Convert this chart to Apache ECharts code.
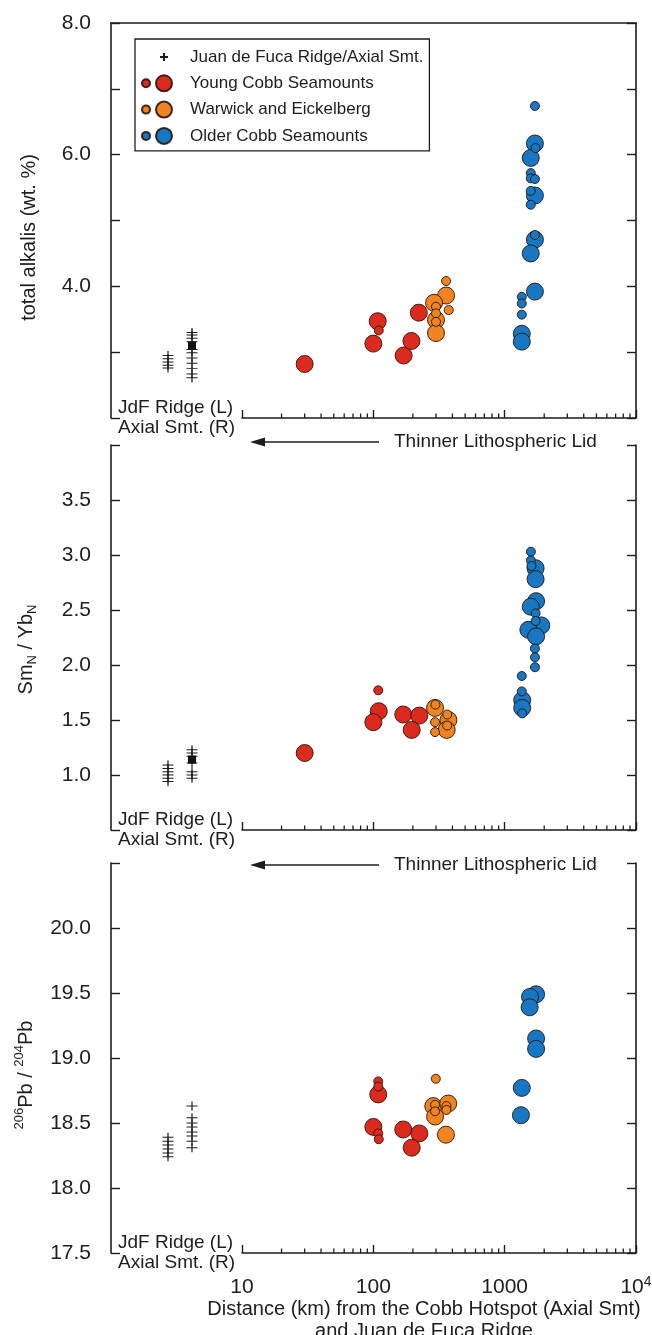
<!DOCTYPE html>
<html>
<head>
<meta charset="utf-8">
<script src="https://cdn.jsdelivr.net/npm/echarts@6/dist/echarts.min.js"></script>
<style>
  html, body { margin: 0; padding: 0; background: #fff; }
  #main { width: 652px; height: 1335px; }
</style>
</head>
<body>
<div id="main"></div>
<script>
// ---------- data (distance in km) ----------
const sites = ['JdF Ridge', 'Axial Smt.'];
const distTicks = [10, 100, 1000, 10000];
const distMinor = [20, 30, 40, 50, 60, 70, 80, 90,
  200, 300, 400, 500, 600, 700, 800, 900,
  2000, 3000, 4000, 5000, 6000, 7000, 8000, 9000];

// total alkalis
const alkTickLabels = [4, 6, 8];
const jdfAlk = [2.95, 2.9, 2.85, 2.8, 2.76];
const axialAlk = [3.3, 3.26, 3.21, 3.16, 3.04, 2.99, 2.91, 2.83, 2.75, 2.67, 2.61];
const axialMeanAlk = [3.1];
const youngAlkBig = [[30, 2.82], [108, 3.47], [100, 3.13], [170, 2.95], [195, 3.17], [222, 3.6]];
const youngAlkSmall = [[110, 3.33]];
const warwickAlkBig = [[358, 3.86], [290, 3.75], [300, 3.49], [300, 3.29]];
const warwickAlkSmall = [[358, 4.08], [300, 3.69], [375, 3.64], [300, 3.59], [300, 3.46]];
const olderAlkBig = [[1700, 6.17], [1580, 5.95], [1700, 5.38], [1700, 4.71], [1580, 4.5], [1700, 3.92], [1350, 3.28], [1350, 3.16]];
const olderAlkSmall = [[1700, 6.74], [1720, 6.1], [1580, 5.72], [1580, 5.64], [1700, 5.63], [1580, 5.45], [1580, 5.24], [1700, 4.78], [1350, 3.84], [1350, 3.74], [1350, 3.57]];

// SmN / YbN
const smybTickLabels = [1.0, 1.5, 2.0, 2.5, 3.0, 3.5];
const jdfSmyb = [1.09, 1.06, 1.03, 1.0, 0.97, 0.94];
const axialSmyb = [1.23, 1.2, 1.17, 1.11, 1.03, 1.0, 0.97];
const axialMeanSmyb = [1.14];
const youngSmybBig = [[30, 1.2], [110, 1.58], [100, 1.48], [169, 1.55], [224, 1.54], [196, 1.41]];
const youngSmybSmall = [[109, 1.77]];
const warwickSmybBig = [[295, 1.61], [373, 1.5], [362, 1.41]];
const warwickSmybSmall = [[297, 1.64], [365, 1.55], [295, 1.48], [295, 1.39], [365, 1.45]];
const olderSmybBig = [[1720, 2.88], [1720, 2.78], [1735, 2.58], [1580, 2.53], [1900, 2.36], [1515, 2.32], [1735, 2.26], [1360, 1.68], [1360, 1.61]];
const olderSmybSmall = [[1585, 3.03], [1585, 2.95], [1600, 2.9], [1720, 2.47], [1720, 2.4], [1700, 2.15], [1700, 2.07], [1700, 1.98], [1350, 1.9], [1350, 1.76], [1360, 1.56]];

// 206Pb / 204Pb
const pbTickLabels = [17.5, 18.0, 18.5, 19.0, 19.5, 20.0];
const jdfPb = [18.39, 18.36, 18.33, 18.3, 18.27, 18.24];
const axialPb = [18.63, 18.54, 18.5, 18.47, 18.43, 18.4, 18.36, 18.31];
const axialMeanPb = [];
const youngPbBig = [[109, 18.72], [100, 18.47], [169, 18.45], [224, 18.42], [196, 18.31]];
const youngPbSmall = [[109, 18.82], [109, 18.78], [109, 18.42], [110, 18.375]];
const warwickPbBig = [[286, 18.63], [372, 18.65], [295, 18.55], [357, 18.41]];
const warwickPbSmall = [[299, 18.84], [295, 18.64], [360, 18.63], [360, 18.6], [295, 18.59]];
const olderPbBig = [[1735, 19.49], [1560, 19.47], [1550, 19.39], [1735, 19.15], [1735, 19.07], [1350, 18.77], [1330, 18.56]];
const olderPbSmall = [];

// ---------- chart ----------
const FONT = '"Liberation Sans", Arial, sans-serif';
const INK = '#1d1d1d';
const JDF = 'Juan de Fuca Ridge/Axial Smt.';
const YOUNG = 'Young Cobb Seamounts';
const WARWICK = 'Warwick and Eickelberg';
const OLDER = 'Older Cobb Seamounts';
const COLORS = { [YOUNG]: '#dd2a1f', [WARWICK]: '#ef8420', [OLDER]: '#1877c2' };
const CROSS = 'path://M0,5L10,5M5,0L5,10';
const PAIR_ICON = 'path://M0,8A4,4,0,1,0,8,8A4,4,0,1,0,0,8ZM14,8A8,8,0,1,0,30,8A8,8,0,1,0,14,8Z';
const CROSS_ICON = 'path://M0,0M30,16M18,8L26,8M22,4L22,12';

const nameRich = {
  a: { fontSize: 20, lineHeight: 26, fontFamily: FONT, color: INK },
  sub: { fontSize: 13, lineHeight: 13, verticalAlign: 'bottom', fontFamily: FONT, color: INK },
  sup: { fontSize: 13, lineHeight: 13, verticalAlign: 'top', fontFamily: FONT, color: INK },
};

const frames = [
  { top: 23, height: 395, min: 2, max: 8, interval: 1, labels: alkTickLabels,
    name: 'total alkalis (wt. %)', shift: 34 },
  { top: 445, height: 385, min: 0.5, max: 4, interval: 0.5, labels: smybTickLabels,
    name: '{a|Sm}{sub|N}{a| / Yb}{sub|N}', shift: 24 },
  { top: 863, height: 390, min: 17.5, max: 20.5, interval: 0.5, labels: pbTickLabels,
    name: '{sup|206}{a|Pb / }{sup|204}{a|Pb}', shift: 34 },
];

const panels = [
  { jdf: jdfAlk, axial: axialAlk, mean: axialMeanAlk,
    groups: [[YOUNG, youngAlkBig, youngAlkSmall], [WARWICK, warwickAlkBig, warwickAlkSmall], [OLDER, olderAlkBig, olderAlkSmall]] },
  { jdf: jdfSmyb, axial: axialSmyb, mean: axialMeanSmyb,
    groups: [[YOUNG, youngSmybBig, youngSmybSmall], [WARWICK, warwickSmybBig, warwickSmybSmall], [OLDER, olderSmybBig, olderSmybSmall]] },
  { jdf: jdfPb, axial: axialPb, mean: axialMeanPb,
    groups: [[YOUNG, youngPbBig, youngPbSmall], [WARWICK, warwickPbBig, warwickPbSmall], [OLDER, olderPbBig, olderPbSmall]] },
];

const axisLine = { show: true, lineStyle: { color: INK, width: 1.6 } };
const grid = [], xAxis = [], yAxis = [], series = [], graphic = [];

frames.forEach((f, p) => {
  const last = p === frames.length - 1;
  const bottom = f.top + f.height;
  // frame grid (left/right axes), data grid (log distance), site grid (JdF / Axial)
  grid.push({ left: 111, right: 16, top: f.top, height: f.height, outerBoundsMode: 'none' });
  grid.push({ left: 242, right: 16, top: f.top, height: f.height, outerBoundsMode: 'none' });
  grid.push({ left: 156, width: 48, top: f.top, height: f.height, outerBoundsMode: 'none' });

  xAxis.push({
    gridIndex: 3 * p, type: 'value', min: 0, max: 1, position: 'top', show: p === 0,
    axisLine, axisTick: { show: false }, axisLabel: { show: false }, splitLine: { show: false },
  });
  xAxis.push({
    gridIndex: 3 * p + 1, type: 'log', logBase: 10, min: 10, max: 10000, position: 'bottom',
    axisLine, axisTick: { show: true, inside: true, length: 8, lineStyle: { color: INK, width: 1.4 } },
    splitLine: { show: false },
    axisLabel: {
      show: last, margin: 22, fontSize: 21, lineHeight: 24, fontFamily: FONT, color: INK,
      formatter: (v) => {
        const r = Math.round(v);
        return r === distTicks[3] ? '10{sup|4}' : String(r);
      },
      rich: { sup: { fontSize: 14, lineHeight: 14, verticalAlign: 'top', fontFamily: FONT, color: INK } },
    },
    name: last ? 'Distance (km) from the Cobb Hotspot (Axial Smt)\nand Juan de Fuca Ridge' : '',
    nameLocation: 'middle', nameGap: 45, nameMoveOverlap: false,
    nameTextStyle: { fontSize: 20, lineHeight: 22, fontFamily: FONT, color: INK, padding: [0, 30, 0, 0] },
  });
  xAxis.push({ gridIndex: 3 * p + 2, type: 'category', data: sites, show: false });

  const fmt = (v) => f.labels.some((l) => Math.abs(l - v) < 1e-6) ? v.toFixed(1) : '';
  const yTick = { show: true, inside: true, length: 9, lineStyle: { color: INK, width: 1.4 } };
  yAxis.push({
    gridIndex: 3 * p, type: 'value', min: f.min, max: f.max, interval: f.interval, position: 'left',
    axisLine, axisTick: yTick, splitLine: { show: false },
    axisLabel: { formatter: fmt, margin: 20, fontSize: 21, fontFamily: FONT, color: INK },
    name: f.name, nameLocation: 'middle', nameRotate: 90, nameGap: 72, nameMoveOverlap: false,
    nameTextStyle: { fontSize: 20, fontFamily: FONT, color: INK, rich: nameRich, padding: [0, f.shift, 0, 0] },
  });
  yAxis.push({
    gridIndex: 3 * p, type: 'value', min: f.min, max: f.max, interval: f.interval, position: 'right',
    axisLine, axisTick: yTick, axisLabel: { show: false }, splitLine: { show: false },
  });
  yAxis.push({ gridIndex: 3 * p + 1, type: 'value', min: f.min, max: f.max, show: false });
  yAxis.push({ gridIndex: 3 * p + 2, type: 'value', min: f.min, max: f.max, show: false });

  // minor ticks on the log distance axis
  series.push({
    type: 'custom', xAxisIndex: 3 * p + 1, yAxisIndex: 4 * p + 2, silent: true, clip: false,
    data: distMinor.map((d) => [d, f.min]),
    renderItem: (params, api) => {
      const pt = api.coord([api.value(0), api.value(1)]);
      return { type: 'line', shape: { x1: pt[0], y1: pt[1], x2: pt[0], y2: pt[1] - 4.5 },
        style: { stroke: INK, lineWidth: 1.3 } };
    },
  });

  const d = panels[p];
  series.push({
    type: 'scatter', name: JDF, xAxisIndex: 3 * p + 2, yAxisIndex: 4 * p + 3,
    symbol: CROSS, symbolSize: [11, 9],
    itemStyle: { color: 'transparent', borderColor: INK, borderWidth: 1.1, opacity: 1 },
    data: d.jdf.map((v) => [sites[0], v]).concat(d.axial.map((v) => [sites[1], v])),
  });
  series.push({
    type: 'scatter', name: 'Axial mean', xAxisIndex: 3 * p + 2, yAxisIndex: 4 * p + 3,
    symbol: 'rect', symbolSize: 8, itemStyle: { color: '#111', opacity: 1 },
    data: d.mean.map((v) => [sites[1], v]),
  });
  d.groups.forEach(([name, big, small]) => {
    const itemStyle = { color: COLORS[name], borderColor: 'rgba(40,22,12,0.9)', borderWidth: 1, opacity: 1 };
    series.push({ type: 'scatter', name, xAxisIndex: 3 * p + 1, yAxisIndex: 4 * p + 2,
      symbolSize: 17, itemStyle, data: big, z: 3 });
    series.push({ type: 'scatter', name, xAxisIndex: 3 * p + 1, yAxisIndex: 4 * p + 2,
      symbolSize: 9, itemStyle, data: small, z: 4 });
  });

  graphic.push({
    type: 'text', x: 118, y: bottom - 20,
    style: { text: 'JdF Ridge (L)\nAxial Smt. (R)', fontSize: 19, lineHeight: 20, fontFamily: FONT,
      fill: INK, align: 'left', verticalAlign: 'top' },
  });
});

// "Thinner Lithospheric Lid" arrows between panels
[442, 865].forEach((y) => {
  graphic.push({ type: 'line', shape: { x1: 262, y1: y, x2: 379, y2: y }, style: { stroke: INK, lineWidth: 1.5 } });
  graphic.push({ type: 'polygon', shape: { points: [[250, y], [265, y - 4.5], [265, y + 4.5]] }, style: { fill: INK } });
  graphic.push({ type: 'text', x: 394, y, style: { text: 'Thinner Lithospheric Lid', fontSize: 19,
    fontFamily: FONT, fill: INK, align: 'left', verticalAlign: 'middle' } });
});

const myChart = echarts.init(document.getElementById('main'));

const option = {
  animation: false,
  backgroundColor: '#fff',
  textStyle: { fontFamily: FONT },
  legend: {
    orient: 'vertical', left: 135, top: 39,
    itemWidth: 30, itemHeight: 16, itemGap: 8.3,
    padding: [9, 6, 6, 6],
    borderColor: INK, borderWidth: 1.3, backgroundColor: '#fff',
    textStyle: { fontSize: 17, lineHeight: 16, fontFamily: FONT, color: INK, padding: [0, 0, 0, 13] },
    data: [
      { name: JDF, icon: CROSS_ICON },
      { name: YOUNG, icon: PAIR_ICON },
      { name: WARWICK, icon: PAIR_ICON },
      { name: OLDER, icon: PAIR_ICON },
    ],
  },
  grid, xAxis, yAxis, series, graphic,
};

myChart.setOption(option);
</script>
</body>
</html>
